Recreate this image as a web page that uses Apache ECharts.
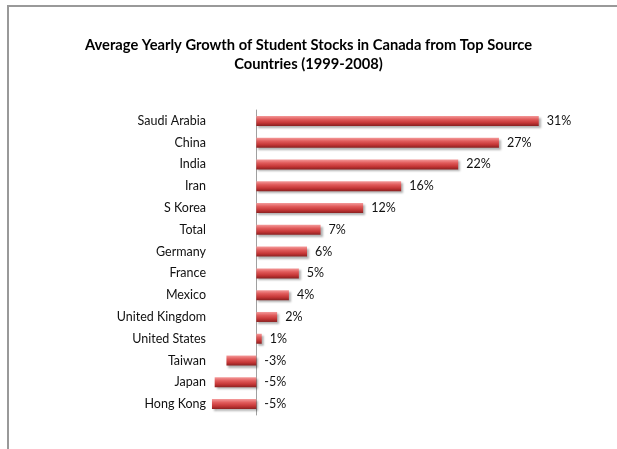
<!DOCTYPE html>
<html>
<head>
<meta charset="utf-8">
<script src="https://cdn.jsdelivr.net/npm/echarts@6/dist/echarts.min.js"></script>
<style>
  html, body { margin: 0; padding: 0; background: #fff; }
  #chart { width: 617px; height: 449px; }
</style>
</head>
<body>
<div id="chart"></div>
<script>
// data
const countries = [
  "Saudi Arabia", "China", "India", "Iran", "S Korea", "Total", "Germany",
  "France", "Mexico", "United Kingdom", "United States", "Taiwan", "Japan", "Hong Kong"
];
const growth = [31.2, 26.8, 22.3, 16.0, 11.8, 7.1, 5.6, 4.7, 3.6, 2.3, 0.6, -3.3, -4.6, -4.9];

const chart = echarts.init(document.getElementById("chart"));

const option = {
  animation: false,
  textStyle: { fontFamily: "Lato" },
  title: {
    text: "Average Yearly Growth of Student Stocks in Canada from Top Source\nCountries (1999-2008)",
    left: "center",
    top: 31,
    textStyle: {
      fontFamily: "Lato",
      fontSize: 14.7,
      fontWeight: "bold",
      color: "#000",
      lineHeight: 19,
    },
  },
  graphic: [
    {
      type: "polyline",
      shape: { points: [[8, 449], [8, 6], [617, 6]] },
      style: { stroke: "#999", lineWidth: 2, fill: null },
    },
  ],
  grid: {
    left: 202,
    width: 344,
    top: 110,
    height: 305,
  },
  xAxis: {
    type: "value",
    min: -6,
    max: 32,
    show: false,
  },
  yAxis: {
    type: "category",
    data: countries,
    inverse: true,
    axisLine: { onZero: true, lineStyle: { color: "#a0a0a0", width: 1 } },
    axisTick: { show: false },
    axisLabel: {
      margin: -4,
      color: "#111",
      fontSize: 12.5,
      fontFamily: "Lato",
    },
  },
  series: [
    {
      type: "bar",
      data: growth,
      barWidth: 10,
      itemStyle: {
        color: new echarts.graphic.LinearGradient(0, 0, 0, 1, [
          { offset: 0, color: "#f49a9a" },
          { offset: 0.35, color: "#e05a5a" },
          { offset: 0.7, color: "#c43636" },
          { offset: 1, color: "#8a2020" },
        ]),
        shadowColor: "rgba(0,0,0,0.3)",
        shadowBlur: 2,
        shadowOffsetX: 2,
        shadowOffsetY: 2,
      },
      label: {
        show: true,
        position: "right",
        distance: 8,
        color: "#111",
        fontSize: 12.5,
        fontFamily: "Lato",
        formatter: (p) => Math.round(p.value) + "%",
      },
    },
  ],
};

chart.setOption(option);
</script>
</body>
</html>
